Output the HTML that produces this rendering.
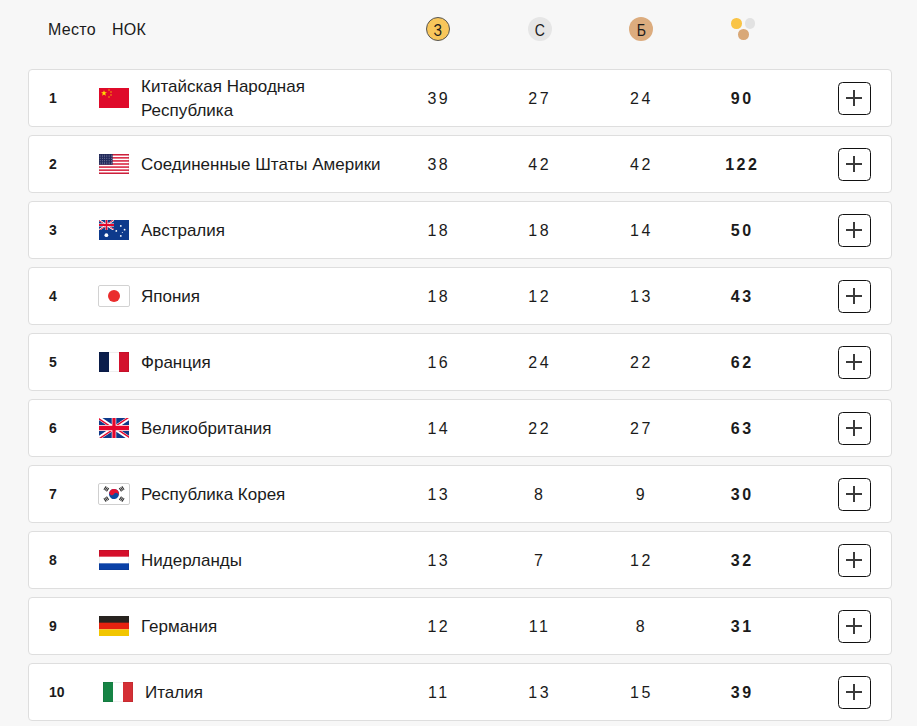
<!DOCTYPE html><html><head><meta charset="utf-8"><style>
*{box-sizing:border-box;margin:0;padding:0}
html,body{width:917px;height:726px;overflow:hidden;background:#f7f7f7;font-family:"Liberation Sans",sans-serif;color:#1b1b1b}
.h{position:absolute;top:0;left:0;width:917px;height:60px}
.ht{position:absolute;top:20px;font-size:16px;line-height:20px;letter-spacing:0.3px}
.m{position:absolute;top:17px;width:24px;height:24px;border-radius:50%;font-size:16px;line-height:28px;text-align:center}
.m span{display:inline-block;transform:scaleX(0.88)}
.dot{position:absolute;width:10.5px;height:10.5px;border-radius:50%}
.r{position:absolute;left:28px;width:864px;height:58px;background:#fff;border:1px solid #dedede;border-radius:4px}
.rk{position:absolute;left:20px;top:0;height:56px;line-height:56px;font-size:14px;font-weight:bold}
.fl{position:absolute;top:18px;width:30px;height:20px}
.fl svg{display:block}
.nm{position:absolute;left:112px;top:1px;height:56px;display:flex;align-items:center;font-size:17px;line-height:24px}
.n{position:absolute;top:1px;height:56px;line-height:56px;width:60px;text-align:center;font-size:16px;letter-spacing:2.5px;text-indent:2.5px}
.b{font-weight:bold}
.pl{position:absolute;left:809px;top:12px;width:33px;height:33px;border:1.5px solid #111;border-radius:4.5px}
.pl:before{content:"";position:absolute;left:7px;top:14px;width:16px;height:2px;background:#3a3a3a}
.pl:after{content:"";position:absolute;left:14px;top:7px;width:2px;height:16px;background:#3a3a3a}
</style></head><body>
<div class="h">
<div class="ht" style="left:48px">Место</div><div class="ht" style="left:112px">НОК</div>
<div class="m" style="left:426px;background:#F8C65B;border:1px solid #555;line-height:26px"><span>З</span></div>
<div class="m" style="left:528px;background:#e6e6e6"><span>С</span></div>
<div class="m" style="left:629px;background:#DCAC7E"><span>Б</span></div>
<div class="dot" style="left:731px;top:18px;background:#F9C447"></div>
<div class="dot" style="left:744.5px;top:18px;background:#e2e2e2"></div>
<div class="dot" style="left:738px;top:29px;background:#D9A877"></div>
</div>
<div class="r" style="top:69px">
<div class="rk">1</div>
<div class="fl" style="left:70px"><svg width="30" height="20" viewBox="0 0 30 20"><rect width="30" height="20" fill="#DF0A2A"/><polygon fill="#FFE000" points="5,2.2 5.8,4.3 8,4.3 6.2,5.6 6.9,7.7 5,6.4 3.1,7.7 3.8,5.6 2,4.3 4.2,4.3"/><circle cx="10" cy="2" r="0.75" fill="#F8B500"/><circle cx="12" cy="4" r="0.75" fill="#F8B500"/><circle cx="12" cy="7" r="0.75" fill="#F8B500"/><circle cx="10" cy="9" r="0.75" fill="#F8B500"/></svg></div>
<div class="nm" style="left:112px">Китайская Народная<br>Республика</div>
<div class="n" style="left:378.6px">39</div>
<div class="n" style="left:479.4px">27</div>
<div class="n" style="left:581.2px">24</div>
<div class="n b" style="left:682.0px">90</div>
<div class="pl"></div>
</div>
<div class="r" style="top:135px">
<div class="rk">2</div>
<div class="fl" style="left:70px"><svg width="30" height="20" viewBox="0 0 30 20" preserveAspectRatio="none"><rect width="30" height="20" fill="#fff"/><rect y="0.000" width="30" height="1.538" fill="#D8233F"/><rect y="3.077" width="30" height="1.538" fill="#D8233F"/><rect y="6.154" width="30" height="1.538" fill="#D8233F"/><rect y="9.231" width="30" height="1.538" fill="#D8233F"/><rect y="12.308" width="30" height="1.538" fill="#D8233F"/><rect y="15.385" width="30" height="1.538" fill="#D8233F"/><rect y="18.462" width="30" height="1.538" fill="#D8233F"/><rect width="13.6" height="10.769" fill="#222A5C"/><circle cx="1.10" cy="1.10" r="0.42" fill="#d8d8e6"/><circle cx="3.35" cy="1.10" r="0.42" fill="#d8d8e6"/><circle cx="5.60" cy="1.10" r="0.42" fill="#d8d8e6"/><circle cx="7.85" cy="1.10" r="0.42" fill="#d8d8e6"/><circle cx="10.10" cy="1.10" r="0.42" fill="#d8d8e6"/><circle cx="12.35" cy="1.10" r="0.42" fill="#d8d8e6"/><circle cx="1.10" cy="2.85" r="0.42" fill="#d8d8e6"/><circle cx="3.35" cy="2.85" r="0.42" fill="#d8d8e6"/><circle cx="5.60" cy="2.85" r="0.42" fill="#d8d8e6"/><circle cx="7.85" cy="2.85" r="0.42" fill="#d8d8e6"/><circle cx="10.10" cy="2.85" r="0.42" fill="#d8d8e6"/><circle cx="12.35" cy="2.85" r="0.42" fill="#d8d8e6"/><circle cx="1.10" cy="4.60" r="0.42" fill="#d8d8e6"/><circle cx="3.35" cy="4.60" r="0.42" fill="#d8d8e6"/><circle cx="5.60" cy="4.60" r="0.42" fill="#d8d8e6"/><circle cx="7.85" cy="4.60" r="0.42" fill="#d8d8e6"/><circle cx="10.10" cy="4.60" r="0.42" fill="#d8d8e6"/><circle cx="12.35" cy="4.60" r="0.42" fill="#d8d8e6"/><circle cx="1.10" cy="6.35" r="0.42" fill="#d8d8e6"/><circle cx="3.35" cy="6.35" r="0.42" fill="#d8d8e6"/><circle cx="5.60" cy="6.35" r="0.42" fill="#d8d8e6"/><circle cx="7.85" cy="6.35" r="0.42" fill="#d8d8e6"/><circle cx="10.10" cy="6.35" r="0.42" fill="#d8d8e6"/><circle cx="12.35" cy="6.35" r="0.42" fill="#d8d8e6"/><circle cx="1.10" cy="8.10" r="0.42" fill="#d8d8e6"/><circle cx="3.35" cy="8.10" r="0.42" fill="#d8d8e6"/><circle cx="5.60" cy="8.10" r="0.42" fill="#d8d8e6"/><circle cx="7.85" cy="8.10" r="0.42" fill="#d8d8e6"/><circle cx="10.10" cy="8.10" r="0.42" fill="#d8d8e6"/><circle cx="12.35" cy="8.10" r="0.42" fill="#d8d8e6"/><circle cx="1.10" cy="9.85" r="0.42" fill="#d8d8e6"/><circle cx="3.35" cy="9.85" r="0.42" fill="#d8d8e6"/><circle cx="5.60" cy="9.85" r="0.42" fill="#d8d8e6"/><circle cx="7.85" cy="9.85" r="0.42" fill="#d8d8e6"/><circle cx="10.10" cy="9.85" r="0.42" fill="#d8d8e6"/><circle cx="12.35" cy="9.85" r="0.42" fill="#d8d8e6"/><rect x="0.25" y="0.25" width="29.5" height="19.5" fill="none" stroke="rgba(0,0,0,0.13)" stroke-width="0.5"/></svg></div>
<div class="nm" style="left:112px">Соединенные Штаты Америки</div>
<div class="n" style="left:378.6px">38</div>
<div class="n" style="left:479.4px">42</div>
<div class="n" style="left:581.2px">42</div>
<div class="n b" style="left:682.0px">122</div>
<div class="pl"></div>
</div>
<div class="r" style="top:201px">
<div class="rk">3</div>
<div class="fl" style="left:70px"><svg width="30" height="20" viewBox="0 0 30 20"><rect width="30" height="20" fill="#0E3A8C"/><svg width="15" height="10" viewBox="0 0 60 30" preserveAspectRatio="none"><clipPath id="ujA"><path d="M30,15 h30 v15 z v15 h-30 z h-30 v-15 z v-15 h30 z"/></clipPath><rect width="60" height="30" fill="#0F3A8A"/><path d="M0,0 L60,30 M60,0 L0,30" stroke="#fff" stroke-width="6"/><path d="M0,0 L60,30 M60,0 L0,30" clip-path="url(#ujA)" stroke="#E4062C" stroke-width="4.5"/><path d="M30,0 V30 M0,15 H60" stroke="#fff" stroke-width="9"/><path d="M30,0 V30 M0,15 H60" stroke="#E4062C" stroke-width="6.5"/></svg><circle cx="7.4" cy="15.2" r="1.9" fill="#fff"/><circle cx="21.8" cy="15.9" r="0.9" fill="#fff"/><circle cx="17.3" cy="10.9" r="0.9" fill="#fff"/><circle cx="21.8" cy="5.9" r="0.9" fill="#fff"/><circle cx="25.6" cy="9.7" r="0.9" fill="#fff"/><circle cx="23.3" cy="12.6" r="0.5" fill="#fff"/></svg></div>
<div class="nm" style="left:112px">Австралия</div>
<div class="n" style="left:378.6px">18</div>
<div class="n" style="left:479.4px">18</div>
<div class="n" style="left:581.2px">14</div>
<div class="n b" style="left:682.0px">50</div>
<div class="pl"></div>
</div>
<div class="r" style="top:267px">
<div class="rk">4</div>
<div class="fl" style="left:70px"><svg width="32" height="22" viewBox="-1 -1 32 22" style="margin:-1px"><rect x="-0.5" y="-0.5" width="31" height="21" rx="1.5" fill="#fff" stroke="#d2d2d2"/><circle cx="15" cy="10" r="6" fill="#EA2D2D"/></svg></div>
<div class="nm" style="left:112px">Япония</div>
<div class="n" style="left:378.6px">18</div>
<div class="n" style="left:479.4px">12</div>
<div class="n" style="left:581.2px">13</div>
<div class="n b" style="left:682.0px">43</div>
<div class="pl"></div>
</div>
<div class="r" style="top:333px">
<div class="rk">5</div>
<div class="fl" style="left:70px"><svg width="30" height="20" viewBox="0 0 30 20"><rect width="10" height="20" fill="#0B1D4B"/><rect x="10" width="10" height="20" fill="#fff"/><rect x="20" width="10" height="20" fill="#D3122D"/><rect x="0.25" y="0.25" width="29.5" height="19.5" fill="none" stroke="rgba(0,0,0,0.13)" stroke-width="0.5"/></svg></div>
<div class="nm" style="left:112px">Франция</div>
<div class="n" style="left:378.6px">16</div>
<div class="n" style="left:479.4px">24</div>
<div class="n" style="left:581.2px">22</div>
<div class="n b" style="left:682.0px">62</div>
<div class="pl"></div>
</div>
<div class="r" style="top:399px">
<div class="rk">6</div>
<div class="fl" style="left:70px"><svg width="30" height="20" viewBox="0 0 60 30" preserveAspectRatio="none"><clipPath id="ujG"><path d="M30,15 h30 v15 z v15 h-30 z h-30 v-15 z v-15 h30 z"/></clipPath><rect width="60" height="30" fill="#0F3A8A"/><path d="M0,0 L60,30 M60,0 L0,30" stroke="#fff" stroke-width="6"/><path d="M0,0 L60,30 M60,0 L0,30" clip-path="url(#ujG)" stroke="#E4062C" stroke-width="4.5"/><path d="M30,0 V30 M0,15 H60" stroke="#fff" stroke-width="9"/><path d="M30,0 V30 M0,15 H60" stroke="#E4062C" stroke-width="6.5"/></svg></div>
<div class="nm" style="left:112px">Великобритания</div>
<div class="n" style="left:378.6px">14</div>
<div class="n" style="left:479.4px">22</div>
<div class="n" style="left:581.2px">27</div>
<div class="n b" style="left:682.0px">63</div>
<div class="pl"></div>
</div>
<div class="r" style="top:465px">
<div class="rk">7</div>
<div class="fl" style="left:70px"><svg width="32" height="22" viewBox="-1 -1 32 22" style="margin:-1px"><rect x="-0.5" y="-0.5" width="31" height="21" rx="1.5" fill="#fff" stroke="#cfcfcf"/><g transform="translate(15 10) rotate(33.7)"><circle r="5" fill="#0B4AA0"/><path d="M-5,0 A5,5 0 0 1 5,0 A2.5,2.5 0 0 0 0,0 A2.5,2.5 0 0 1 -5,0Z" fill="#E6102F"/></g><g transform="translate(7.30 4.90) rotate(-56.3)" fill="#333"><rect x="-2" y="-2.1" width="4" height="1.1"/><rect x="-2" y="-0.55" width="4" height="1.1"/><rect x="-2" y="1" width="4" height="1.1"/></g><g transform="translate(22.70 4.90) rotate(56.3)" fill="#333"><rect x="-2" y="-2.1" width="4" height="1.1"/><rect x="-2" y="-0.55" width="4" height="1.1"/><rect x="-2" y="1" width="4" height="1.1"/></g><g transform="translate(7.30 15.10) rotate(56.3)" fill="#333"><rect x="-2" y="-2.1" width="4" height="1.1"/><rect x="-2" y="-0.55" width="4" height="1.1"/><rect x="-2" y="1" width="4" height="1.1"/></g><g transform="translate(22.70 15.10) rotate(-56.3)" fill="#333"><rect x="-2" y="-2.1" width="4" height="1.1"/><rect x="-2" y="-0.55" width="4" height="1.1"/><rect x="-2" y="1" width="4" height="1.1"/></g></svg></div>
<div class="nm" style="left:112px">Республика Корея</div>
<div class="n" style="left:378.6px">13</div>
<div class="n" style="left:479.4px">8</div>
<div class="n" style="left:581.2px">9</div>
<div class="n b" style="left:682.0px">30</div>
<div class="pl"></div>
</div>
<div class="r" style="top:531px">
<div class="rk">8</div>
<div class="fl" style="left:70px"><svg width="30" height="20" viewBox="0 0 30 20"><rect width="30" height="7" fill="#D50F2B"/><rect y="6.67" width="30" height="6.67" fill="#fff"/><rect y="13.33" width="30" height="6.67" fill="#0A41A7"/><rect x="0.25" y="0.25" width="29.5" height="19.5" fill="none" stroke="rgba(0,0,0,0.13)" stroke-width="0.5"/></svg></div>
<div class="nm" style="left:112px">Нидерланды</div>
<div class="n" style="left:378.6px">13</div>
<div class="n" style="left:479.4px">7</div>
<div class="n" style="left:581.2px">12</div>
<div class="n b" style="left:682.0px">32</div>
<div class="pl"></div>
</div>
<div class="r" style="top:597px">
<div class="rk">9</div>
<div class="fl" style="left:70px"><svg width="30" height="20" viewBox="0 0 30 20"><rect width="30" height="7" fill="#27231F"/><rect y="6.67" width="30" height="6.67" fill="#E6220F"/><rect y="13.33" width="30" height="6.67" fill="#F2C600"/></svg></div>
<div class="nm" style="left:112px">Германия</div>
<div class="n" style="left:378.6px">12</div>
<div class="n" style="left:479.4px">11</div>
<div class="n" style="left:581.2px">8</div>
<div class="n b" style="left:682.0px">31</div>
<div class="pl"></div>
</div>
<div class="r" style="top:663px">
<div class="rk">10</div>
<div class="fl" style="left:74px"><svg width="30" height="20" viewBox="0 0 30 20"><rect width="10" height="20" fill="#168445"/><rect x="10" width="10" height="20" fill="#fff"/><rect x="20" width="10" height="20" fill="#D42F35"/><rect x="0.25" y="0.25" width="29.5" height="19.5" fill="none" stroke="rgba(0,0,0,0.13)" stroke-width="0.5"/></svg></div>
<div class="nm" style="left:116px">Италия</div>
<div class="n" style="left:378.6px">11</div>
<div class="n" style="left:479.4px">13</div>
<div class="n" style="left:581.2px">15</div>
<div class="n b" style="left:682.0px">39</div>
<div class="pl"></div>
</div>
</body></html>
